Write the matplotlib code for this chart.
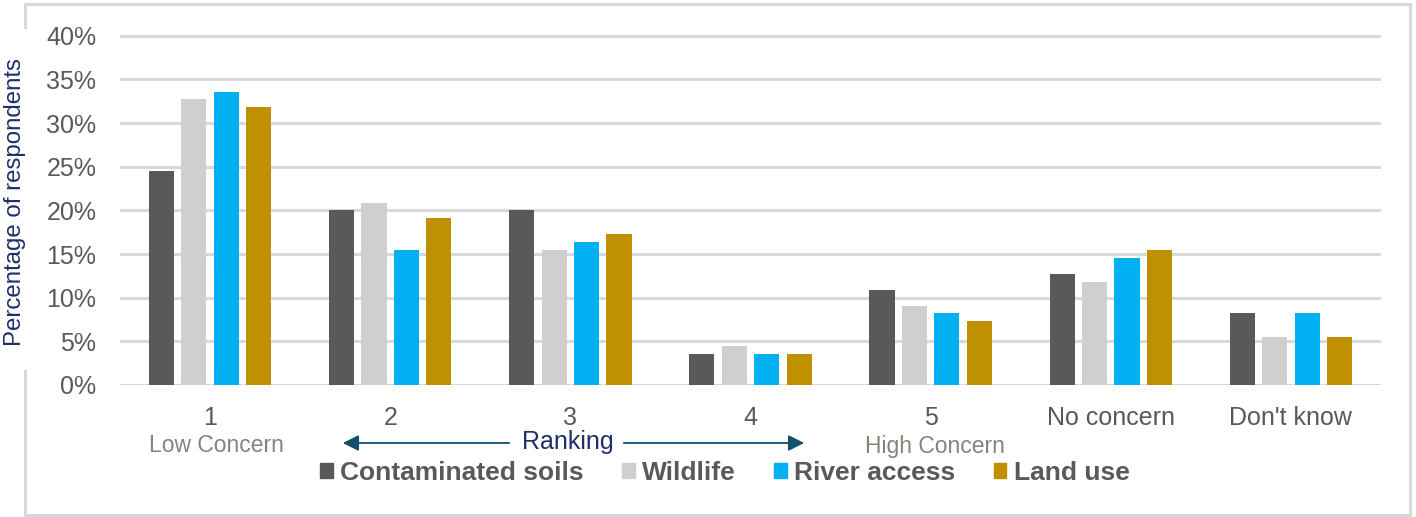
import numpy as np
import matplotlib.pyplot as plt
from matplotlib.patches import Patch
from matplotlib.lines import Line2D

plt.rcParams['font.family'] = ['Liberation Sans', 'DejaVu Sans']

categories = ["1", "2", "3", "4", "5", "No concern", "Don't know"]
series = ["Contaminated soils", "Wildlife", "River access", "Land use"]
contaminated = [24.5, 20.0, 20.0, 3.6, 10.9, 12.7, 8.2]
wildlife = [32.7, 20.9, 15.5, 4.5, 9.1, 11.8, 5.5]
river = [33.6, 15.5, 16.4, 3.6, 8.2, 14.5, 8.2]
land = [31.8, 19.1, 17.3, 3.6, 7.3, 15.5, 5.5]
yticks = [0, 5, 10, 15, 20, 25, 30, 35, 40]

colors = ["#595959", "#D0CECE", "#00B0F0", "#BF9000"]
txt = "#595959"

W, H = 1416, 517
fig = plt.figure(figsize=(W / 100, H / 100), dpi=100)

ax = fig.add_axes([120 / W, 1 - 385 / H, 1261 / W, 351 / H])
x = np.arange(len(categories))
bw = 0.139
slot = 0.18
for i, (vals, c) in enumerate(zip([contaminated, wildlife, river, land], colors)):
    ax.bar(x + (i - 1.5) * slot, vals, width=bw, color=c, zorder=3)

ax.set_xlim(-0.5, len(categories) - 0.5)
ax.set_ylim(0, 40.2)
ax.set_yticks(yticks)
ax.set_yticklabels([f"{v}%" for v in yticks])
ax.set_xticks(x)
ax.set_xticklabels(categories)
ax.tick_params(axis='y', length=0, pad=17, labelsize=18, labelcolor=txt)
ax.tick_params(axis='x', length=0, pad=15, labelsize=18, labelcolor=txt)
ax.yaxis.grid(True, color="#D9D9D9", lw=2.2, zorder=0)
for s in ax.spines.values():
    s.set_visible(False)

fig.text(15 / W, 1 - 202 / H, "Percentage of respondents", rotation=90,
         ha='center', va='center', fontsize=17.3, color="#1F2F6B")

# concern range labels under the axis
fig.text(216 / W, 1 - 445 / H, "Low Concern", ha='center', va='center',
         fontsize=16.5, color="#8C8179")
fig.text(935 / W, 1 - 447 / H, "High Concern", ha='center', va='center',
         fontsize=16.5, color="#8C8179")
fig.text(568 / W, 1 - 442 / H, "Ranking", ha='center', va='center',
         fontsize=18, color="#1F2F6B")
arrow = dict(arrowstyle='-|>', color="#12506E", lw=1.3, mutation_scale=24)
fig.add_artist(plt.Annotation("", xy=(340 / W, 1 - 443 / H), xytext=(512 / W, 1 - 443 / H),
                              xycoords='figure fraction', arrowprops=arrow))
fig.add_artist(plt.Annotation("", xy=(807 / W, 1 - 443 / H), xytext=(621 / W, 1 - 443 / H),
                              xycoords='figure fraction', arrowprops=arrow))

handles = [Patch(color=c, label=s) for c, s in zip(colors, series)]
leg = fig.legend(handles=handles, loc='center', bbox_to_anchor=(725 / W, 1 - 473 / H),
                 ncol=4, frameon=False, handlelength=0.48, handleheight=0.48,
                 handletextpad=0.28, columnspacing=1.45,
                 prop={'weight': 'bold', 'size': 19})
for t in leg.get_texts():
    t.set_color(txt)

# chart frame, broken on the left where the axis title sits
bc = "#D9D9D9"
for xs, ys in [([25, 1410], [4, 4]), ([1410, 1410], [4, 515]), ([25, 1410], [515, 515]),
               ([25, 25], [4, 27]), ([25, 25], [371, 515])]:
    fig.add_artist(Line2D([v / W for v in xs], [1 - v / H for v in ys], color=bc, lw=2.2))

fig.savefig("out.png", dpi=100)
